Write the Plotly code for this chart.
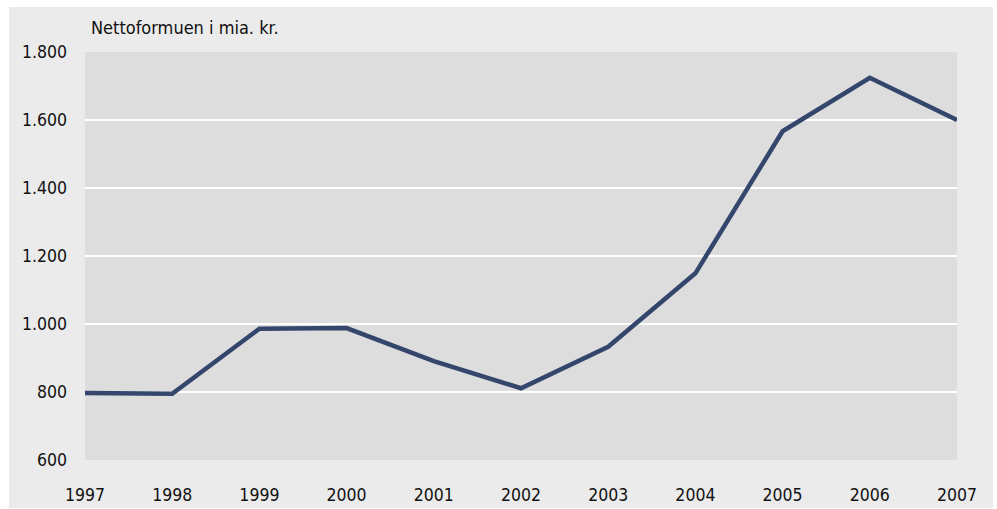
import plotly.graph_objects as go

years = [1997, 1998, 1999, 2000, 2001, 2002, 2003, 2004, 2005, 2006, 2007]
nettoformue = [797, 795, 986, 988, 891, 811, 933, 1149, 1567, 1724, 1600]
y_ticks = [600, 800, 1000, 1200, 1400, 1600, 1800]
y_tick_labels = ["600", "800", "1.000", "1.200", "1.400", "1.600", "1.800"]
title_text = "Nettoformuen i mia. kr."

W, H = 997, 509
L, R, T, B = 85, 40, 52, 49
FONT = "Liberation Sans Narrow, DejaVu Sans Condensed, Arial Narrow, sans-serif"

fig = go.Figure()
fig.add_trace(go.Scatter(
    x=years, y=nettoformue, mode="lines",
    line=dict(color="#34466c", width=4.5),
    hoverinfo="x+y", showlegend=False,
))

pw = W - L - R
ph = H - T - B
def px2x(p):
    return (p - L) / pw
def py2y(p):
    return (H - B - p) / ph

shapes = []
for (x0, x1, y0, y1) in [(0, W, 0, 7), (0, 9, 0, H), (993, W, 0, H), (0, W, 508, H)]:
    shapes.append(dict(type="rect", xref="paper", yref="paper",
                       x0=px2x(x0), x1=px2x(x1), y0=py2y(y1), y1=py2y(y0),
                       fillcolor="white", line=dict(width=0), layer="below"))

fig.update_layout(
    width=W, height=H,
    margin=dict(l=L, r=R, t=T, b=B, autoexpand=False),
    paper_bgcolor="#ebebeb",
    plot_bgcolor="#dddddd",
    font=dict(family=FONT, size=17.5, color="#111111"),
    shapes=shapes,
    annotations=[dict(text=title_text, xref="paper", yref="paper",
                      x=px2x(89), y=py2y(27), xanchor="left", yanchor="middle",
                      showarrow=False, font=dict(family=FONT, size=18, color="#111111"))],
    xaxis=dict(range=[1997, 2007], tickmode="array", tickvals=years,
               ticktext=[str(y) for y in years], showgrid=False, zeroline=False,
               showline=False, ticks="", ticklabelstandoff=22, fixedrange=True,
               automargin=False),
    yaxis=dict(range=[600, 1800], tickmode="array", tickvals=y_ticks,
               ticktext=y_tick_labels, showgrid=True, gridcolor="white",
               gridwidth=2, zeroline=False, showline=False, ticks="",
               ticklabelstandoff=17, fixedrange=True, automargin=False),
)

fig.write_html(
    "out.html",
    config={"displayModeBar": False},
    post_script="document.body.style.margin='0';document.body.style.padding='0';document.body.style.overflow='hidden';",
)
